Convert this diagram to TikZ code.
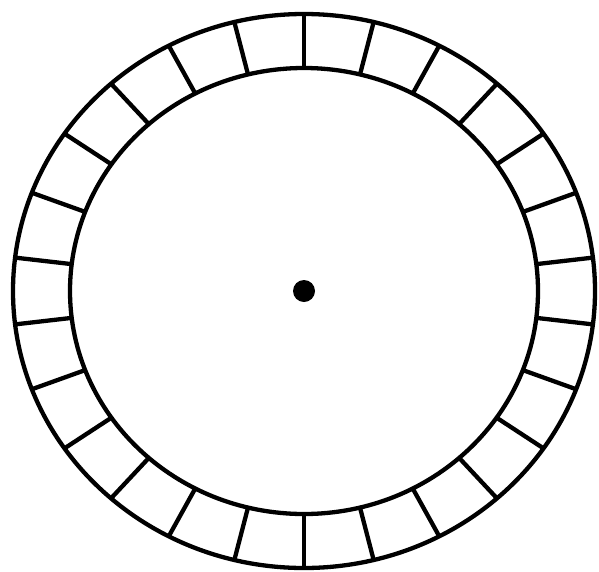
\documentclass[tikz,border=0pt]{standalone}
\usetikzlibrary{calc}
\begin{document}
\begin{tikzpicture}[x=1pt,y=-1pt,
  ringline/.style={line width=4.3pt,black},
  spokeline/.style={line width=4.3pt,black,line cap=butt}]
\useasboundingbox (0,0) rectangle (599,571);
\coordinate (c) at (304,291);
\draw[ringline] (c) ellipse [x radius=291, y radius=277];
\draw[ringline] (c) ellipse [x radius=234, y radius=223];
\foreach \k in {0,...,25}{
  \pgfmathsetmacro{\t}{90+\k*360/26}
  \draw[spokeline] ($(c)+({234*cos(\t)},{-223*sin(\t)})$) -- ($(c)+({291*cos(\t)},{-277*sin(\t)})$);
}
\fill[black] (c) circle [radius=11];
\end{tikzpicture}
\end{document}
